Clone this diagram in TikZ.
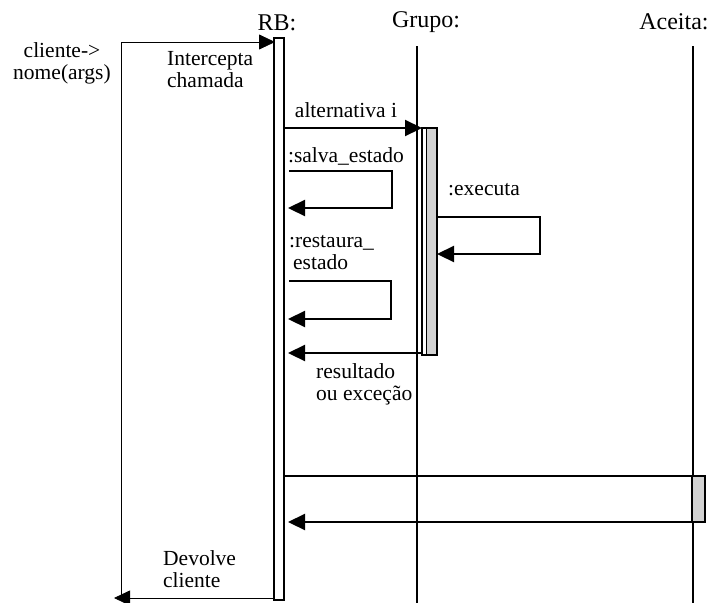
\documentclass[tikz,border=0pt]{standalone}
\usepackage{fontspec}
\setmainfont{Liberation Serif}
\usetikzlibrary{arrows.meta}
\begin{document}
\begin{tikzpicture}[x=1pt,y=-1pt,
  lbl/.style={font=\fontsize{21.5}{22}\selectfont, inner sep=0pt, align=left},
  ttl/.style={font=\fontsize{24}{26}\selectfont, inner sep=0pt},
  msg/.style={line width=2.2pt, -{Triangle[length=17pt,width=16pt]}},
  life/.style={line width=1.3pt},
  thin/.style={line width=0.8pt}]
\useasboundingbox[fill=white] (0,0) rectangle (713,603);

% object titles
\node[ttl] (tRB) at (277,23) {RB:};
\node[ttl] (tGr) at (426,22) {Grupo:};
\node[ttl] (tAc) at (674,22) {Aceita:};

% lifelines
\coordinate (gTop) at (417,46);
\coordinate (gBot) at (417,603);
\coordinate (aTop) at (693,46);
\coordinate (aBot) at (693,603);
\draw[life] (gTop) -- (gBot);
\draw[life] (aTop) -- (aBot);

% client call and return
\coordinate (cTop) at (121,42);
\coordinate (cBot) at (121,598);
\coordinate (cEnd) at (114,598);
\coordinate (rbIn) at (275,42);
\coordinate (rbOut) at (274,598);
\draw[thin] (cBot) -- (cTop);
\draw[thin,-{Triangle[length=16pt,width=15pt]}] (cTop) -- (rbIn);
\draw[thin,-{Triangle[length=16pt,width=15pt]}] (rbOut) -- (cEnd);

% RB activation bar
\draw[line width=1.8pt, fill=white] (274,38) rectangle (284,600);

% Grupo activation bar
\draw[line width=1.6pt, fill=gray!35] (422,128) rectangle (437,355);
\draw[line width=1.6pt, fill=white] (422,128) rectangle (426.5,355);

% Aceita activation box
\draw[line width=1.6pt, fill=gray!35] (692,476) rectangle (705,522);

% alternativa i
\coordinate (a1) at (284,128);
\coordinate (a2) at (422,128);
\draw[msg] (a1) -- (a2);
\node[lbl] (lAlt) at (346,110) {alternativa i};

% :salva_estado self call
\coordinate (s1) at (289,171);
\coordinate (s2) at (392,171);
\coordinate (s3) at (392,208);
\coordinate (s4) at (288,208);
\draw[msg] (s1) -- (s2) -- (s3) -- (s4);
\node[lbl] (lSalva) at (346,156) {:salva\_estado};

% :executa self call
\coordinate (e1) at (437,217);
\coordinate (e2) at (540,217);
\coordinate (e3) at (540,254);
\coordinate (e4) at (437,254);
\draw[msg] (e1) -- (e2) -- (e3) -- (e4);
\node[lbl] (lExec) at (484,190) {:executa};

% :restaura_estado self call
\coordinate (r1) at (289,281);
\coordinate (r2) at (391,281);
\coordinate (r3) at (391,319);
\coordinate (r4) at (288,319);
\draw[msg] (r1) -- (r2) -- (r3) -- (r4);
\node[lbl, anchor=north west] (lRest) at (289,235) {:restaura\_\\[0pt]\hspace{4pt}estado};

% resultado ou exceção
\coordinate (v1) at (422,353);
\coordinate (v2) at (288,353);
\draw[msg] (v1) -- (v2);
\node[lbl, anchor=north west] (lRes) at (316,363) {resultado\\[0pt]ou exceção};

% call to Aceita and return
\coordinate (k1) at (284,476);
\coordinate (k2) at (692,476);
\coordinate (k3) at (692,522);
\coordinate (k4) at (288,522);
\draw[line width=2.2pt] (k1) -- (k2);
\draw[msg] (k3) -- (k4);

% remaining labels
\node[lbl, align=center] (lCli) at (62,63) {cliente->\\[0pt]nome(args)};
\node[lbl, anchor=north west] (lInt) at (167,51) {Intercepta\\[0pt]chamada};
\node[lbl, anchor=north west] (lDev) at (163,550) {Devolve\\[0pt]cliente};
\end{tikzpicture}
\end{document}
